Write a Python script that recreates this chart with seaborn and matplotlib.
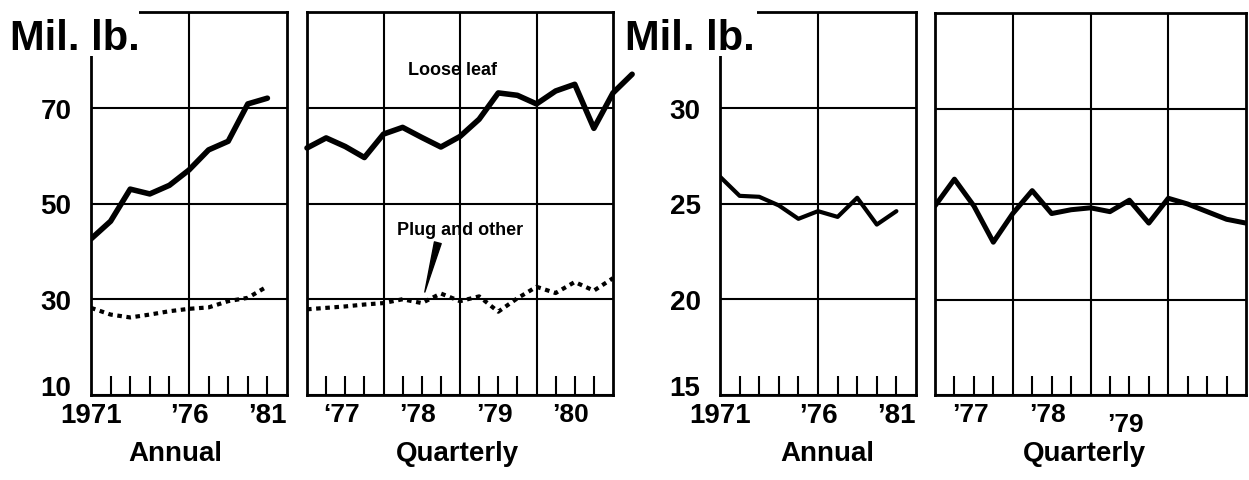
import matplotlib
matplotlib.use("Agg")
import matplotlib.pyplot as plt
import matplotlib.transforms as mtransforms
from matplotlib.patches import Rectangle
import pandas as pd
import seaborn as sns

# ---------------- data ----------------
years = [1971, 1972, 1973, 1974, 1975, 1976, 1977, 1978, 1979, 1980]
loose_leaf_annual = [42.6, 46.3, 53.0, 52.0, 53.8, 57.0, 61.2, 63.0, 70.8, 72.0]
plug_annual = [28.2, 26.8, 26.2, 26.8, 27.5, 28.0, 28.3, 29.6, 30.3, 32.7]

quarters_ll = [1977.0, 1977.25, 1977.5, 1977.75, 1978.0, 1978.25, 1978.5, 1978.75,
               1979.0, 1979.25, 1979.5, 1979.75, 1980.0, 1980.25, 1980.5, 1980.75,
               1981.0, 1981.25]
loose_leaf_quarterly = [61.6, 63.7, 61.9, 59.6, 64.5, 65.9, 63.8, 61.8,
                        64.0, 67.6, 73.1, 72.6, 70.8, 73.5, 74.9, 65.7,
                        73.1, 77.0]
quarters = [1977.0, 1977.25, 1977.5, 1977.75, 1978.0, 1978.25, 1978.5, 1978.75,
            1979.0, 1979.25, 1979.5, 1979.75, 1980.0, 1980.25, 1980.5, 1980.75,
            1981.0]
plug_quarterly = [27.9, 28.2, 28.5, 28.9, 29.2, 30.0, 29.2, 31.2,
                  29.6, 30.6, 27.4, 30.2, 32.6, 31.3, 33.6, 31.8, 34.4]

consumption_annual = [26.4, 25.4, 25.35, 24.9, 24.2, 24.6, 24.3, 25.3, 23.9, 24.6]
consumption_quarterly = [24.9, 26.3, 24.9, 23.0, 24.5, 25.7, 24.5, 24.7,
                         24.8, 24.6, 25.2, 24.0, 25.3, 25.0, 24.6, 24.2, 24.0]

annual_ticks = [1971, 1976, 1981]
annual_ticklabels = ["1971", "\u201976", "\u201981"]
annual_minor = [1972, 1973, 1974, 1975, 1977, 1978, 1979, 1980]
quarter_marks = [1977.25, 1977.5, 1977.75, 1978.25, 1978.5, 1978.75,
                 1979.25, 1979.5, 1979.75, 1980.25, 1980.5, 1980.75]
year_bounds = [1978, 1979, 1980]
left_yticks = [10, 30, 50, 70]
right_yticks = [15, 20, 25, 30]
q_labels_left = [(1977, "\u201877"), (1978, "\u201978"), (1979, "\u201979"), (1980, "\u201980")]
q_labels_right = [(1977, "\u201977"), (1978, "\u201978"), (1979, "\u201979")]

# ---------------- style ----------------
sns.set_style("white")
plt.rcParams["font.family"] = ["Liberation Sans", "DejaVu Sans"]
plt.rcParams["font.weight"] = "bold"
plt.rcParams["axes.labelweight"] = "bold"
for key in ("text.color", "axes.labelcolor", "xtick.color", "ytick.color", "axes.edgecolor"):
    plt.rcParams[key] = "black"
plt.rcParams["axes.linewidth"] = 2.0
plt.rcParams["xtick.bottom"] = True

W, H = 1249, 481
fig = plt.figure(figsize=(W / 100, H / 100), dpi=100)


def px_axes(left, right, top, bottom):
    return fig.add_axes([left / W, (H - bottom) / H, (right - left) / W, (bottom - top) / H])


ax1 = px_axes(91, 287, 13, 396)
ax2 = px_axes(307, 613, 13, 396)
ax3 = px_axes(720, 916, 13, 396)
ax4 = px_axes(935, 1246, 14, 396)

GRID_LW = 1.5


def base(ax, ylim, yticks, show_ylabels):
    ax.set_ylim(*ylim)
    ax.set_axisbelow(True)
    ax.set_yticks(yticks)
    ax.yaxis.grid(True, color="black", lw=GRID_LW)
    ax.tick_params(axis="y", which="major", length=0, pad=14, labelsize=20)
    if show_ylabels:
        ax.set_yticklabels([str(v) for v in yticks], fontweight="bold")
        ax.get_yticklabels()[0].set_va("baseline")
    else:
        ax.set_yticklabels([])
    for s in ax.spines.values():
        s.set_linewidth(2.0)
        s.set_color("black")
    ax.set_ylabel("")


def annual(ax, ylim, yticks, xlabel_x):
    base(ax, ylim, yticks, True)
    ax.set_xlim(1971, 1981)
    ax.set_xticks(annual_ticks)
    ax.set_xticklabels(annual_ticklabels, fontweight="bold")
    ax.get_xticklabels()[-1].set_ha("right")
    ax.set_xticks(annual_minor, minor=True)
    ax.tick_params(axis="x", which="major", length=0, pad=5, labelsize=20)
    ax.tick_params(axis="x", which="minor", bottom=True, direction="in", length=14,
                   width=1.5, color="black")
    ax.axvline(1976, color="black", lw=GRID_LW, zorder=1)
    ax.set_xlabel("Annual", fontsize=20, fontweight="bold")
    ax.xaxis.set_label_coords(xlabel_x, -0.118)


def quarterly(ax, ylim, yticks, labels, xlabel_x, low_label=None):
    base(ax, ylim, yticks, False)
    ax.set_xlim(1977, 1981)
    ax.set_xticks([])
    ax.set_xticks(quarter_marks, minor=True)
    ax.tick_params(axis="x", which="minor", bottom=True, direction="in", length=14,
                   width=1.5, color="black")
    for yb in year_bounds:
        ax.axvline(yb, color="black", lw=GRID_LW, zorder=1)
    trans = mtransforms.blended_transform_factory(ax.transData, ax.transAxes)
    for yr, lab in labels:
        off = -0.018
        if low_label is not None and yr == low_label:
            off = -0.045
        ax.text(yr + 0.45, off, lab, transform=trans, ha="center", va="top",
                fontsize=19, fontweight="bold")
    ax.set_xlabel("Quarterly", fontsize=20, fontweight="bold")
    ax.xaxis.set_label_coords(xlabel_x, -0.118)


# ---------------- panel 1: annual production ----------------
df_a = pd.DataFrame({"year": years, "loose": loose_leaf_annual, "plug": plug_annual})
sns.lineplot(data=df_a, x="year", y="loose", ax=ax1, color="black", lw=4)
sns.lineplot(data=df_a, x="year", y="plug", ax=ax1, color="black", lw=3,
             linestyle=(0, (1.1, 1.1)))
annual(ax1, (10, 90), left_yticks, 0.43)

# ---------------- panel 2: quarterly production ----------------
df_ql = pd.DataFrame({"q": quarters_ll, "loose": loose_leaf_quarterly})
df_qp = pd.DataFrame({"q": quarters, "plug": plug_quarterly})
sns.lineplot(data=df_ql, x="q", y="loose", ax=ax2, color="black", lw=4, clip_on=False)
sns.lineplot(data=df_qp, x="q", y="plug", ax=ax2, color="black", lw=3,
             linestyle=(0, (1.1, 1.1)))
quarterly(ax2, (10, 90), left_yticks, q_labels_left, 0.49)
ax2.text(1978.9, 78, "Loose leaf", ha="center", va="center", fontsize=13, fontweight="bold")
ax2.text(1979.0, 44.5, "Plug and other", ha="center", va="center", fontsize=13,
         fontweight="bold")
ax2.annotate("", xy=(1978.54, 31.5), xytext=(1978.71, 41.8),
             arrowprops=dict(arrowstyle="wedge,tail_width=0.5", color="black",
                             shrinkA=0, shrinkB=0))

# ---------------- panel 3: annual consumption ----------------
df_c = pd.DataFrame({"year": years, "cons": consumption_annual})
sns.lineplot(data=df_c, x="year", y="cons", ax=ax3, color="black", lw=3)
annual(ax3, (15, 35), right_yticks, 0.55)

# ---------------- panel 4: quarterly consumption ----------------
df_cq = pd.DataFrame({"q": quarters, "cons": consumption_quarterly})
sns.lineplot(data=df_cq, x="q", y="cons", ax=ax4, color="black", lw=3.6)
quarterly(ax4, (15, 35), right_yticks, q_labels_right, 0.48, low_label=1979)

# ---------------- unit labels (white patch hides the frame corner) ----------------
for xpx, box_left, box_right in ((10, 0, 139), (625, 618, 757)):
    fig.patches.append(Rectangle((box_left / W, 1 - 57 / H), (box_right - box_left) / W, 57 / H,
                                 transform=fig.transFigure, facecolor="white",
                                 edgecolor="none", zorder=2.5))
    fig.text(xpx / W, 1 - 50 / H, "Mil. lb.", ha="left", va="baseline", fontsize=30,
             fontweight="bold", zorder=3)

fig.savefig("out.png", dpi=100, facecolor="white")
